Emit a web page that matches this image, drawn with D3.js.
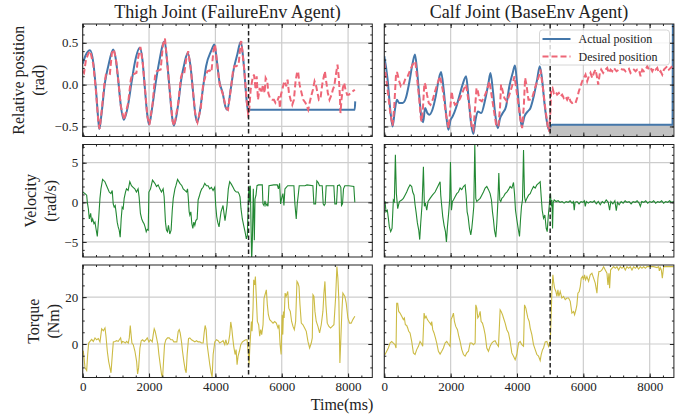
<!DOCTYPE html>
<html>
<head>
<meta charset="utf-8">
<script src="https://cdn.jsdelivr.net/npm/d3@7"></script>
<style>
    body { margin: 0; background: #ffffff; }
    svg text { font-family: "Liberation Serif", "Times New Roman", serif; fill: #222; }
</style>
</head>
<body>
<svg id="chart" width="684" height="417"></svg>
<script>
// ---- data (time in ms, [t, value]) ----
const jointTitles = ['Thigh Joint (FailureEnv Agent)', 'Calf Joint (BaseEnv Agent)'];
const rowLabels = [['Relative position', '(rad)'], ['Velocity', '(rad/s)'], ['Torque', '(Nm)']];
const legendLabels = ['Actual position', 'Desired position'];
const timeTicks = [0, 2000, 4000, 6000, 8000];
const posTicks = [-0.5, 0, 0.5];
const velTicks = [-5, 0, 5];
const torqueTicks = [0, 20];
const switchTime = 5000;

const thighPosActual = [[0,0.25],[100,0.36],[220,0.41],[320,0.26],[400,-0.06],[470,-0.42],[500,-0.53],[570,-0.34],[670,0.02],[770,0.22],[920,0.42],[1000,0.30],[1070,0.06],[1140,-0.22],[1240,-0.42],[1370,-0.24],[1470,0.02],[1570,0.26],[1720,0.44],[1800,0.30],[1870,-0.02],[1940,-0.34],[2000,-0.48],[2100,-0.26],[2200,0.02],[2300,0.26],[2470,0.52],[2540,0.30],[2620,-0.06],[2700,-0.40],[2750,-0.49],[2870,-0.26],[2970,0.06],[3070,0.26],[3170,0.38],[3250,0.22],[3320,-0.06],[3390,-0.34],[3450,-0.45],[3540,-0.30],[3620,-0.06],[3720,0.22],[3870,0.40],[3970,0.48],[4040,0.30],[4120,0.04],[4220,-0.10],[4300,-0.26],[4360,-0.30],[4460,-0.06],[4560,0.20],[4660,0.36],[4760,0.51],[4860,0.22],[4930,-0.14],[4990,-0.33],[5030,-0.30],[8200,-0.30],[8215,-0.20]];
const thighPosDesired = [[0,0.16],[40,0.14],[100,0.30],[200,0.40],[240,0.38],[320,0.24],[400,-0.08],[470,-0.44],[510,-0.53],[570,-0.32],[650,0.0],[700,0.12],[760,0.14],[820,0.13],[880,0.38],[940,0.42],[1010,0.28],[1080,0.02],[1150,-0.26],[1250,-0.42],[1370,-0.22],[1450,0.06],[1490,0.12],[1560,0.13],[1620,0.14],[1660,0.30],[1740,0.45],[1810,0.26],[1880,-0.06],[1950,-0.38],[2010,-0.48],[2110,-0.22],[2180,0.10],[2230,0.16],[2290,0.17],[2350,0.18],[2420,0.48],[2480,0.55],[2550,0.26],[2630,-0.10],[2710,-0.44],[2760,-0.49],[2880,-0.22],[2960,0.08],[3000,0.14],[3060,0.13],[3120,0.30],[3180,0.40],[3260,0.18],[3330,-0.10],[3400,-0.38],[3460,-0.45],[3560,-0.28],[3630,0.0],[3700,0.10],[3760,0.16],[3820,0.17],[3880,0.15],[3940,0.40],[3990,0.48],[4050,0.26],[4130,0.0],[4230,-0.12],[4320,-0.28],[4380,-0.30],[4470,-0.04],[4530,0.16],[4570,0.22],[4630,0.22],[4700,0.24],[4760,0.50],[4780,0.52],[4870,0.18],[4940,-0.18],[4990,-0.36],[5013,-0.34],[5063,-0.06],[5113,0.06],[5164,0.12],[5214,-0.06],[5244,0.10],[5284,-0.18],[5334,-0.04],[5384,-0.10],[5434,0.0],[5484,-0.10],[5515,0.08],[5565,0.04],[5595,-0.10],[5645,-0.16],[5715,-0.18],[5765,-0.18],[5815,-0.22],[5866,-0.20],[5916,-0.14],[5946,-0.28],[5976,-0.12],[6016,-0.06],[6066,0.02],[6096,0.04],[6136,-0.02],[6176,0.06],[6217,-0.10],[6267,-0.18],[6317,-0.24],[6367,-0.18],[6417,0.04],[6467,0.16],[6498,0.14],[6538,0.0],[6598,-0.10],[6648,-0.18],[6718,-0.22],[6798,-0.30],[6839,-0.22],[6899,-0.12],[6939,-0.06],[6989,0.04],[7039,-0.02],[7069,-0.08],[7119,-0.18],[7170,-0.16],[7220,0.0],[7270,0.10],[7300,0.16],[7340,0.04],[7390,-0.10],[7440,-0.18],[7501,-0.12],[7541,-0.06],[7581,-0.02],[7641,0.14],[7681,0.24],[7721,0.08],[7751,-0.12],[7771,-0.34],[7801,-0.18],[7842,-0.04],[7882,0.02],[7922,-0.06],[7972,-0.12],[8022,-0.12],[8082,-0.10],[8142,-0.08],[8203,-0.06]];

const calfPosActual = [[0,0.34],[100,0.06],[180,-0.30],[250,-0.50],[320,-0.30],[380,-0.18],[450,-0.22],[550,-0.22],[650,-0.16],[750,0.02],[855,0.26],[925,0.36],[985,0.18],[1055,-0.14],[1130,-0.42],[1170,-0.45],[1230,-0.28],[1300,-0.34],[1360,-0.36],[1450,-0.30],[1550,-0.14],[1640,0.06],[1711,0.15],[1790,-0.06],[1860,-0.34],[1930,-0.54],[2000,-0.42],[2060,-0.38],[2160,-0.28],[2260,-0.14],[2360,0.0],[2465,0.10],[2535,-0.14],[2615,-0.46],[2685,-0.59],[2750,-0.42],[2820,-0.32],[2920,-0.34],[3040,-0.18],[3140,0.02],[3200,0.14],[3270,-0.06],[3340,-0.34],[3420,-0.52],[3490,-0.40],[3570,-0.34],[3670,-0.26],[3770,-0.02],[3870,0.14],[3940,0.23],[4000,0.02],[4070,-0.30],[4145,-0.50],[4225,-0.38],[4325,-0.32],[4405,-0.28],[4505,-0.14],[4607,0.06],[4687,0.22],[4757,0.06],[4828,-0.22],[4909,-0.46],[4960,-0.54],[5010,-0.50],[5060,-0.48],[8690,-0.48],[8700,0.9]];
const calfPosDesired = [[0,0.26],[100,-0.06],[180,-0.34],[250,-0.49],[300,-0.26],[350,0.10],[383,0.15],[450,0.04],[500,-0.02],[575,0.0],[625,0.06],[705,0.10],[785,0.18],[855,0.24],[935,0.28],[1055,-0.18],[1107,-0.42],[1130,-0.44],[1168,-0.26],[1208,0.02],[1238,0.0],[1288,-0.12],[1340,-0.22],[1390,-0.24],[1460,-0.18],[1530,-0.08],[1610,0.02],[1680,0.10],[1760,-0.06],[1860,-0.36],[1940,-0.52],[2010,-0.18],[2030,-0.08],[2070,-0.18],[2130,-0.24],[2210,-0.22],[2290,-0.16],[2390,-0.06],[2465,0.0],[2565,-0.26],[2635,-0.50],[2685,-0.54],[2740,-0.26],[2780,-0.04],[2820,-0.08],[2870,-0.18],[2940,-0.20],[3020,-0.14],[3100,-0.06],[3170,0.04],[3270,-0.22],[3370,-0.48],[3440,-0.50],[3490,-0.26],[3520,0.0],[3570,-0.08],[3620,-0.16],[3700,-0.20],[3770,-0.12],[3850,-0.02],[3925,0.10],[4025,-0.18],[4105,-0.42],[4155,-0.52],[4205,-0.26],[4245,0.08],[4285,0.0],[4345,-0.18],[4385,-0.18],[4455,-0.16],[4557,-0.02],[4660,0.10],[4707,0.18],[4788,-0.06],[4858,-0.30],[4929,-0.50],[4969,-0.56],[5010,-0.30],[5030,-0.06],[5070,-0.04],[5110,-0.10],[5160,-0.08],[5210,-0.12],[5261,-0.10],[5311,-0.14],[5361,-0.12],[5412,-0.16],[5462,-0.14],[5512,-0.18],[5563,-0.14],[5613,-0.20],[5663,-0.22],[5713,-0.21],[5764,-0.22],[5814,-0.16],[5864,-0.08],[5915,-0.02],[5965,0.04],[6015,0.08],[6066,0.12],[6116,0.04],[6166,0.10],[6216,0.14],[6267,0.08],[6317,0.14],[6367,0.18],[6418,0.08],[6448,0.0],[6498,0.14],[6538,0.18],[6599,0.14],[6669,0.18],[6719,0.20],[6770,0.14],[6820,0.18],[6870,0.16],[6921,0.20],[7001,0.16],[7072,0.18],[7122,0.19],[7172,0.18],[7222,0.18],[7273,0.16],[7323,0.18],[7373,0.19],[7424,0.14],[7474,0.16],[7524,0.18],[7575,0.16],[7625,0.18],[7675,0.18],[7725,0.10],[7776,0.18],[7826,0.16],[7876,0.18],[7927,0.22],[7977,0.18],[8027,0.20],[8078,0.16],[8128,0.20],[8178,0.18],[8228,0.20],[8279,0.14],[8329,0.16],[8379,0.12],[8430,0.18],[8480,0.20],[8530,0.22],[8581,0.18],[8631,0.20],[8681,0.22]];

const thighVel = [[0,1.3],[70,1.1],[120,0.9],[140,0],[170,-0.8],[200,-2.1],[240,-1.4],[270,-2.5],[300,-2.1],[340,-2.7],[370,-2.5],[400,-3.3],[440,-4.3],[480,-2.1],[520,0.5],[550,1.7],[600,2.9],[670,2.6],[720,2.1],[800,1.3],[850,1.1],[890,1.5],[920,-0.2],[950,-0.6],[980,-0.4],[1010,-1.4],[1040,-2.5],[1070,-3.1],[1100,-3.5],[1130,-4.4],[1160,-2.1],[1190,-0.6],[1220,-0.8],[1250,0.5],[1290,1.3],[1320,1.7],[1370,1.5],[1420,2.6],[1470,2.1],[1520,1.9],[1570,1.7],[1620,1.3],[1670,1.7],[1700,0.7],[1740,-1.4],[1780,-2.1],[1820,-2.5],[1850,-2.7],[1880,-3.1],[1915,-3.7],[1945,-3.4],[1975,-3.5],[1995,1.3],[2045,1.7],[2105,2.8],[2175,2.4],[2225,2.0],[2275,2.2],[2325,1.7],[2375,1.3],[2425,1.7],[2455,0.7],[2495,-2.5],[2525,-3.5],[2555,-3.7],[2585,-2.9],[2625,-4.0],[2665,-3.5],[2700,-1.0],[2730,0.5],[2780,1.7],[2810,2.1],[2860,2.9],[2930,2.4],[2990,2.1],[3030,1.7],[3080,1.5],[3130,1.3],[3160,1.7],[3180,0.7],[3210,-1.2],[3230,-1.6],[3260,-1.2],[3290,-2.7],[3320,-3.3],[3350,-2.5],[3380,-2.9],[3410,-2.3],[3450,-2.1],[3480,0.3],[3510,0.7],[3550,1.3],[3590,1.7],[3630,1.9],[3680,2.4],[3730,2.1],[3780,2.1],[3830,1.7],[3880,1.9],[3930,1.5],[3980,1.9],[4010,-0.4],[4040,-1.8],[4070,-2.5],[4110,-3.1],[4140,-2.1],[4170,-1.2],[4200,-0.8],[4230,-0.4],[4260,-1.4],[4290,-2.3],[4320,-1.4],[4350,-0.4],[4390,1.7],[4431,2.6],[4480,2.3],[4532,1.9],[4580,1.5],[4630,1.3],[4682,1.3],[4712,1.1],[4742,0.7],[4772,-0.8],[4812,-2.1],[4852,-2.9],[4893,-3.7],[4933,-4.6],[4963,-4.2],[4993,0.5],[5013,2.1],[5033,0.0],[5053,2.1],[5073,-2.5],[5093,-7.5],[5113,-5.0],[5143,1.7],[5174,-4.8],[5194,0.4],[5224,0.9],[5254,2.1],[5300,2.2],[5414,2.2],[5434,-0.2],[5465,-0.4],[5495,0.2],[5525,-0.4],[5555,-0.2],[5585,-0.5],[5615,2.1],[5760,2.2],[5866,2.2],[5900,1.7],[5936,2.4],[5966,-0.2],[5996,0.5],[6036,1.1],[6066,-0.4],[6096,1.7],[6136,1.9],[6180,2.1],[6367,2.1],[6397,-0.2],[6437,-2.1],[6467,-0.2],[6497,0.9],[6527,2.1],[6700,2.1],[6760,2.2],[6939,2.1],[6969,-0.2],[7020,-0.2],[7059,2.7],[7099,2.5],[7139,2.1],[7220,2.1],[7250,-0.2],[7280,-0.4],[7310,-0.2],[7340,2.1],[7571,2.1],[7601,-0.2],[7651,-0.2],[7681,2.1],[7741,2.2],[7781,1.9],[7802,-0.4],[7832,-0.2],[7862,1.7],[7902,2.1],[8022,2.1],[8173,2.0],[8203,0.0]];
const calfVel = [[0,0.1],[22,0.1],[52,-1.2],[92,-1.0],[122,-2.0],[152,-3.1],[193,-3.7],[233,-3.3],[273,0.3],[303,0.1],[334,6.0],[364,1.1],[404,-0.8],[454,0.1],[525,0.3],[575,0.5],[625,0.9],[675,1.3],[725,1.8],[776,2.2],[826,2.0],[857,1.3],[897,0.9],[927,-0.3],[957,-1.2],[997,-2.6],[1038,-3.5],[1068,-4.7],[1098,-2.6],[1138,-0.3],[1179,4.5],[1209,-0.5],[1239,-0.1],[1279,-1.0],[1319,0.1],[1380,0.5],[1450,0.9],[1531,1.3],[1601,1.9],[1682,2.6],[1702,0.9],[1732,-0.5],[1762,-1.8],[1802,-2.9],[1843,-3.7],[1873,-5.0],[1903,-3.1],[1943,-1.2],[1973,0.5],[1994,5.1],[2024,-1.0],[2054,0.1],[2084,0.3],[2134,0.7],[2185,1.1],[2235,1.3],[2285,1.8],[2335,1.6],[2386,2.0],[2436,2.2],[2466,0.9],[2497,-1.2],[2527,-1.8],[2567,-3.3],[2607,-4.1],[2637,-3.3],[2667,-2.0],[2698,-0.5],[2728,7.4],[2758,0.5],[2788,0.1],[2839,0.3],[2889,0.5],[2939,0.9],[2989,1.3],[3040,1.8],[3090,2.0],[3140,1.6],[3190,1.1],[3230,0.3],[3261,-1.2],[3291,-2.2],[3321,-3.5],[3361,-4.4],[3392,-2.6],[3422,-0.1],[3452,3.7],[3482,0.3],[3512,0.1],[3543,0.5],[3593,0.7],[3643,1.1],[3693,1.3],[3743,1.6],[3794,2.0],[3844,1.8],[3895,2.5],[3925,1.1],[3955,-1.0],[3995,-2.2],[4036,-3.3],[4076,-4.3],[4106,-2.2],[4136,-0.5],[4166,0.3],[4197,6.6],[4227,0.7],[4257,0.1],[4297,0.5],[4348,0.9],[4398,1.1],[4448,1.6],[4498,2.0],[4549,1.8],[4599,2.2],[4649,2.4],[4699,2.6],[4730,0.7],[4760,-1.0],[4800,-2.0],[4840,-1.6],[4881,-3.3],[4911,-3.7],[4941,-1.8],[4971,-0.5],[4991,0.7],[5011,1.1],[5031,-0.5],[5052,0.3],[5072,-3.3],[5092,0.0],[5122,0.3],[5180,0.1],[5240,0.2],[5300,0.0],[5360,0.1],[5420,-0.1],[5480,0.1],[5540,0.0],[5600,0.2],[5660,-0.1],[5700,0.1],[5726,-1.0],[5750,0.0],[5810,0.1],[5870,-0.2],[5930,0.1],[5990,0.0],[6030,0.2],[6058,-0.5],[6090,0.1],[6150,-0.1],[6210,0.1],[6270,0.0],[6330,0.2],[6390,-0.2],[6450,0.1],[6510,-0.3],[6570,0.1],[6630,-0.1],[6690,0.3],[6750,0.0],[6792,-1.0],[6830,0.1],[6890,-0.2],[6950,0.2],[6993,-1.05],[7030,0.0],[7080,-0.3],[7140,0.1],[7200,-0.1],[7260,0.2],[7320,0.0],[7380,0.1],[7440,-0.2],[7500,0.1],[7560,0.0],[7620,0.2],[7680,-0.1],[7718,-0.5],[7760,0.1],[7820,0.0],[7880,0.2],[7940,-0.1],[8000,0.1],[8060,0.0],[8120,0.2],[8180,-0.1],[8240,0.1],[8300,0.0],[8360,0.2],[8420,-0.1],[8480,0.1],[8540,0.0],[8600,0.2],[8660,0.0],[8740,0.1]];

const thighTorque = [[0,-3.1],[20,-3.1],[70,-10.2],[120,-11.3],[150,-4.5],[180,0.4],[220,1.1],[270,2.0],[320,1.1],[371,2.6],[421,1.8],[471,2.3],[521,0.9],[572,6.5],[622,5.6],[672,6.8],[702,3.3],[742,-3.1],[782,-7.4],[822,-10.2],[853,-12.3],[893,-4.5],[923,0.9],[973,1.1],[1023,1.4],[1073,1.1],[1103,1.8],[1143,2.6],[1173,0.4],[1203,1.1],[1243,0.9],[1284,0.4],[1324,1.1],[1374,0.4],[1404,2.6],[1434,7.9],[1454,4.7],[1484,0.4],[1524,-0.3],[1575,-3.1],[1625,-7.4],[1655,-12.8],[1685,-10.2],[1725,-1.7],[1765,1.4],[1805,1.8],[1855,1.1],[1905,1.8],[1946,2.6],[1996,0.9],[2046,1.8],[2096,0.9],[2126,4.0],[2156,6.5],[2186,5.4],[2226,2.6],[2267,-0.3],[2297,-4.5],[2337,-8.8],[2377,-13.0],[2407,-14.6],[2437,-7.4],[2467,-0.3],[2507,1.8],[2557,2.6],[2607,2.6],[2657,1.8],[2708,1.8],[2748,0.9],[2798,0.9],[2838,0.9],[2879,5.4],[2909,6.1],[2939,4.7],[2979,0.9],[3009,-3.1],[3049,-7.4],[3089,-10.9],[3119,-12.3],[3149,-4.5],[3190,2.3],[3230,2.6],[3280,1.8],[3330,1.4],[3380,0.9],[3430,1.4],[3480,0.9],[3531,0.9],[3581,0.4],[3631,0.4],[3661,4.7],[3691,7.9],[3721,6.1],[3751,-0.3],[3791,-4.5],[3831,-8.8],[3872,-12.3],[3902,-14.1],[3932,-4.5],[3982,0.9],[4032,1.8],[4082,1.4],[4132,0.4],[4182,0.9],[4232,1.4],[4283,-0.3],[4313,1.8],[4353,-0.3],[4393,0.4],[4433,4.0],[4463,9.4],[4493,6.8],[4523,2.6],[4553,-1.0],[4594,-4.5],[4624,-2.4],[4654,-8.8],[4684,-5.2],[4724,-3.1],[4764,-0.3],[4814,0.9],[4864,1.4],[4915,1.8],[4955,1.8],[4995,-4.5],[5015,-8.8],[5035,-2.4],[5055,2.6],[5085,9.6],[5105,5.4],[5135,15.3],[5155,27.4],[5185,25.2],[5205,28.8],[5235,19.5],[5265,9.6],[5305,8.2],[5336,3.3],[5366,6.1],[5396,4.0],[5436,8.2],[5466,19.5],[5496,21.0],[5536,23.1],[5566,16.7],[5597,12.5],[5637,10.4],[5687,9.6],[5737,8.9],[5787,9.6],[5837,8.9],[5887,6.8],[5917,8.2],[5951,-0.3],[5982,-4.5],[6012,12.5],[6032,4.0],[6052,13.9],[6072,11.1],[6102,21.7],[6132,20.3],[6182,22.4],[6212,15.3],[6258,13.9],[6298,9.6],[6339,7.5],[6379,6.1],[6419,9.6],[6459,26.7],[6489,26.0],[6520,24.5],[6550,16.7],[6590,8.9],[6640,8.2],[6690,6.8],[6740,5.4],[6790,1.1],[6840,-1.7],[6890,0.4],[6921,2.6],[6941,21.0],[6971,20.3],[7001,13.9],[7041,9.6],[7091,7.5],[7141,4.7],[7191,8.2],[7241,13.9],[7272,21.7],[7302,26.7],[7332,16.7],[7372,8.9],[7422,7.5],[7472,6.8],[7522,7.5],[7573,8.2],[7623,19.6],[7663,33.0],[7693,28.0],[7723,18.2],[7753,-8.1],[7783,2.6],[7813,13.9],[7843,21.7],[7873,21.0],[7903,20.3],[7944,17.4],[7994,11.1],[8044,8.9],[8094,8.9],[8144,10.4],[8204,11.8]];
const calfTorque = [[0,-4.5],[22,-4.5],[72,-3.1],[122,-1.7],[173,0.4],[223,1.1],[273,0.4],[323,-0.3],[354,-1.7],[374,17.4],[404,17.4],[434,13.9],[474,13.2],[525,11.8],[575,10.4],[605,11.1],[635,8.2],[675,7.9],[706,6.8],[736,5.4],[776,4.7],[826,1.1],[877,-3.8],[927,-4.5],[977,-2.4],[1028,-1.0],[1078,1.1],[1128,0.0],[1158,-1.0],[1199,13.2],[1229,11.1],[1259,11.8],[1299,10.4],[1339,9.6],[1380,8.9],[1410,8.2],[1430,9.6],[1460,6.1],[1500,4.7],[1541,2.6],[1581,0.4],[1631,-3.1],[1682,-4.3],[1732,-3.1],[1782,-1.7],[1832,0.4],[1882,1.1],[1933,0.0],[1983,-1.0],[2013,10.4],[2054,11.8],[2084,13.2],[2114,9.6],[2154,7.5],[2205,6.1],[2245,3.3],[2285,1.1],[2336,-2.4],[2386,-4.5],[2436,-5.2],[2486,-3.8],[2537,-3.1],[2587,0.4],[2637,0.4],[2688,-0.3],[2738,0.4],[2758,16.7],[2788,15.3],[2818,11.1],[2849,11.8],[2889,13.9],[2919,9.6],[2959,8.9],[3000,6.8],[3040,4.0],[3090,-1.7],[3140,-3.1],[3190,-1.0],[3241,0.4],[3291,1.1],[3341,1.4],[3391,0.0],[3442,-1.0],[3492,14.6],[3522,13.9],[3563,12.5],[3593,11.1],[3643,8.9],[3694,6.1],[3744,4.7],[3794,1.1],[3844,-3.8],[3895,-5.2],[3945,-6.7],[3995,-4.5],[4046,0.4],[4096,1.1],[4146,-0.3],[4197,-1.0],[4227,16.7],[4267,15.3],[4297,13.2],[4327,11.1],[4368,9.6],[4398,6.8],[4448,4.0],[4498,-0.3],[4549,-2.4],[4599,-4.5],[4649,-5.2],[4699,-7.1],[4730,-4.5],[4770,-2.4],[4800,-1.7],[4851,0.9],[4901,1.1],[4951,-1.0],[4981,0.4],[5001,-0.3],[5021,8.2],[5052,22.4],[5082,29.5],[5102,26.7],[5132,23.8],[5172,22.4],[5203,20.3],[5233,23.1],[5263,20.3],[5303,22.4],[5353,19.6],[5404,20.3],[5454,18.9],[5504,19.6],[5555,19.6],[5605,18.2],[5655,13.2],[5705,13.9],[5736,12.5],[5776,14.6],[5806,16.7],[5836,21.7],[5876,22.4],[5907,24.5],[5937,28.1],[5977,28.8],[6007,27.4],[6037,29.5],[6068,27.4],[6108,28.8],[6158,26.7],[6208,29.5],[6259,30.2],[6309,28.1],[6359,26.0],[6410,21.7],[6440,28.1],[6470,30.9],[6510,30.9],[6561,31.6],[6611,33.0],[6661,31.6],[6712,30.2],[6742,25.2],[6772,30.2],[6792,23.8],[6822,31.6],[6862,32.3],[6913,33.0],[6963,32.3],[7013,33.0],[7064,31.6],[7114,33.0],[7164,32.3],[7215,33.0],[7265,31.6],[7315,33.0],[7366,32.3],[7416,33.0],[7466,31.6],[7516,33.0],[7567,32.3],[7617,33.0],[7667,32.0],[7717,33.0],[7768,32.3],[7818,33.0],[7868,32.3],[7919,33.0],[8020,33.0],[8120,33.0],[8220,32.6],[8271,33.0],[8291,31.2],[8321,32.6],[8351,31.6],[8381,28.1],[8421,33.0],[8522,33.0],[8622,33.0],[8724,33.0]];

// ---- layout ----
const colors = { actual: '#4477AA', desired: '#EE6677', vel: '#228833', torque: '#CCBB44' };
const colX = [82.7, 384.3], panelW = 289.6;
const rowY = [24, 144.5, 265], panelH = 112.5;
const timeMax = 8730;

const rows = [
    { domain: [-0.62, 0.725], ticks: posTicks, minor: 0.1, fmt: d3.format('.1f'), labelX: [18, 38] },
    { domain: [-6.9, 7.3], ticks: velTicks, minor: 1, fmt: d3.format('d'), labelX: [30, 50] },
    { domain: [-14.3, 33.7], ticks: torqueTicks, minor: 5, fmt: d3.format('d'), labelX: [33, 53] }
];
const series = [
    [{ actual: thighPosActual, desired: thighPosDesired }, { actual: calfPosActual, desired: calfPosDesired, fill: true }],
    [{ line: thighVel }, { line: calfVel }],
    [{ line: thighTorque }, { line: calfTorque }]
];

function minorValues(domain, step) {
    return d3.range(Math.ceil(domain[0] / step), Math.floor(domain[1] / step) + 1).map(k => +(k * step).toFixed(4));
}

const svg = d3.select('#chart');
const defs = svg.append('defs');

rows.forEach((row, r) => {
    [0, 1].forEach(c => {
        const x0 = colX[c], y0 = rowY[r];
        const x = d3.scaleLinear().domain([0, timeMax]).range([x0, x0 + panelW]);
        const y = d3.scaleLinear().domain(row.domain).range([y0 + panelH, y0]);
        const clipId = `clip-${r}-${c}`;
        defs.append('clipPath').attr('id', clipId)
            .append('rect').attr('x', x0).attr('y', y0).attr('width', panelW).attr('height', panelH);

        const g = svg.append('g');

        // grid
        g.selectAll('.vgrid').data(timeTicks).enter().append('line')
            .attr('x1', d => x(d)).attr('x2', d => x(d)).attr('y1', y0).attr('y2', y0 + panelH)
            .attr('stroke', '#cdcdcd').attr('stroke-width', 1.2);
        g.selectAll('.hgrid').data(row.ticks).enter().append('line')
            .attr('x1', x0).attr('x2', x0 + panelW).attr('y1', d => y(d)).attr('y2', d => y(d))
            .attr('stroke', '#cdcdcd').attr('stroke-width', 1.2);
        if (r === 1) {
            g.append('line').attr('x1', x0).attr('x2', x0 + panelW).attr('y1', y(0)).attr('y2', y(0))
                .attr('stroke', '#9a9a9a').attr('stroke-width', 1);
        }

        const plot = g.append('g').attr('clip-path', `url(#${clipId})`);
        const s = series[r][c];
        if (r === 0) {
            if (s.fill) {
                const after = s.actual.filter(d => d[0] >= switchTime - 50);
                plot.append('path').datum(after)
                    .attr('fill', '#c2c2c2')
                    .attr('d', d3.area().x(d => x(d[0])).y0(y0 + panelH).y1(d => y(Math.min(d[1], -0.48))));
            }
            plot.append('path').datum(s.actual)
                .attr('fill', 'none').attr('stroke', colors.actual).attr('stroke-width', 2)
                .attr('d', d3.line().x(d => x(d[0])).y(d => y(d[1])).curve(d3.curveMonotoneX));
            plot.append('path').datum(s.desired)
                .attr('fill', 'none').attr('stroke', colors.desired).attr('stroke-width', 2)
                .attr('stroke-dasharray', '6,3')
                .attr('d', d3.line().x(d => x(d[0])).y(d => y(d[1])));
        } else {
            plot.append('path').datum(s.line)
                .attr('fill', 'none').attr('stroke', r === 1 ? colors.vel : colors.torque).attr('stroke-width', 1.1)
                .attr('d', d3.line().x(d => x(d[0])).y(d => y(d[1])));
        }

        // switch marker
        g.append('line').attr('x1', x(switchTime)).attr('x2', x(switchTime)).attr('y1', y0).attr('y2', y0 + panelH)
            .attr('stroke', '#222').attr('stroke-width', 1.5).attr('stroke-dasharray', '4.5,2.5');

        // frame
        g.append('rect').attr('x', x0).attr('y', y0).attr('width', panelW).attr('height', panelH)
            .attr('fill', 'none').attr('stroke', '#222').attr('stroke-width', 1);

        // ticks, all four sides, inward
        const xMinor = minorValues([0, timeMax], 400);
        const yMinor = minorValues(row.domain, row.minor);
        const axisStyle = sel => {
            sel.select('.domain').remove();
            sel.attr('font-family', '"Liberation Serif", serif').attr('font-size', 13);
            sel.selectAll('line').attr('stroke', '#222');
            sel.selectAll('text').attr('fill', '#222');
        };
        g.append('g').attr('transform', `translate(0,${y0 + panelH})`)
            .call(d3.axisBottom(x).tickValues(timeTicks).tickSize(-4).tickPadding(4.5)
                .tickFormat(r === 2 ? d3.format('d') : () => ''))
            .call(axisStyle);
        g.append('g').attr('transform', `translate(0,${y0 + panelH})`)
            .call(d3.axisBottom(x).tickValues(xMinor).tickSize(-2).tickFormat(() => '')).call(axisStyle);
        g.append('g').attr('transform', `translate(0,${y0})`)
            .call(d3.axisTop(x).tickValues(timeTicks).tickSize(-4).tickFormat(() => '')).call(axisStyle);
        g.append('g').attr('transform', `translate(0,${y0})`)
            .call(d3.axisTop(x).tickValues(xMinor).tickSize(-2).tickFormat(() => '')).call(axisStyle);
        g.append('g').attr('transform', `translate(${x0},0)`)
            .call(d3.axisLeft(y).tickValues(row.ticks).tickSize(-4).tickPadding(4.5)
                .tickFormat(c === 0 ? row.fmt : () => ''))
            .call(axisStyle);
        g.append('g').attr('transform', `translate(${x0},0)`)
            .call(d3.axisLeft(y).tickValues(yMinor).tickSize(-2).tickFormat(() => '')).call(axisStyle);
        g.append('g').attr('transform', `translate(${x0 + panelW},0)`)
            .call(d3.axisRight(y).tickValues(row.ticks).tickSize(-4).tickFormat(() => '')).call(axisStyle);
        g.append('g').attr('transform', `translate(${x0 + panelW},0)`)
            .call(d3.axisRight(y).tickValues(yMinor).tickSize(-2).tickFormat(() => '')).call(axisStyle);

        // column titles
        if (r === 0) {
            svg.append('text').attr('x', x0 + panelW / 2).attr('y', 18)
                .attr('text-anchor', 'middle').style('font-size', '18px').text(jointTitles[c]);
        }
        // row labels
        if (c === 0) {
            rowLabels[r].forEach((txt, i) => {
                svg.append('text')
                    .attr('transform', `translate(${row.labelX[i]},${y0 + panelH / 2}) rotate(-90)`)
                    .attr('text-anchor', 'middle').attr('dy', '0.35em')
                    .style('font-size', '16px').text(txt);
            });
        }
    });
});

// legend (top right panel)
const legend = svg.append('g').attr('transform', 'translate(539.5,30)');
legend.append('rect').attr('width', 130).attr('height', 35).attr('rx', 3)
    .attr('fill', '#ffffff').attr('fill-opacity', 0.8).attr('stroke', '#cccccc').attr('stroke-width', 0.8);
legendLabels.forEach((label, i) => {
    const ly = 9 + i * 17.5;
    legend.append('line').attr('x1', 3).attr('x2', 31).attr('y1', ly).attr('y2', ly)
        .attr('stroke', i === 0 ? colors.actual : colors.desired).attr('stroke-width', 2)
        .attr('stroke-dasharray', i === 0 ? null : '6,3');
    legend.append('text').attr('x', 39).attr('y', ly).attr('dy', '0.35em')
        .style('font-size', '12px').text(label);
});

// shared x label
svg.append('text').attr('x', 342).attr('y', 410).attr('text-anchor', 'middle')
    .style('font-size', '16px').text('Time(ms)');
</script>
</body>
</html>
